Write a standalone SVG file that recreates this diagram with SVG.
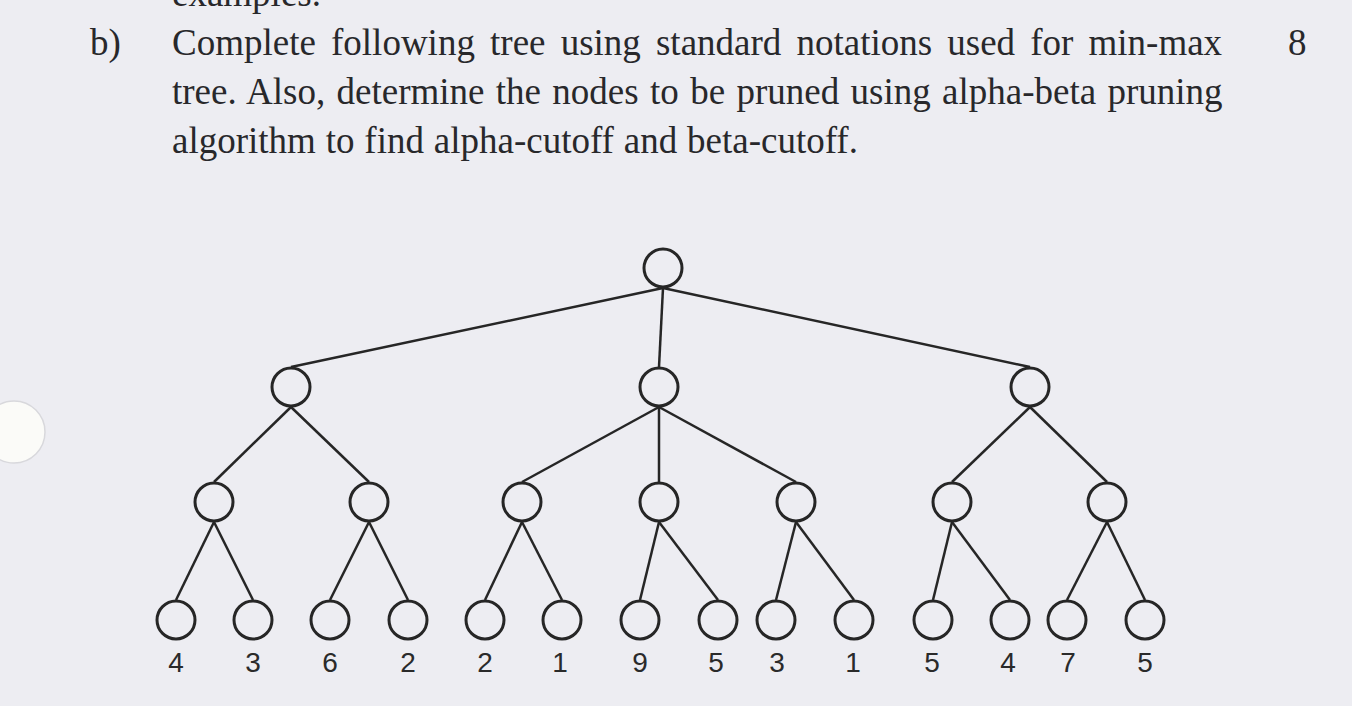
<svg xmlns="http://www.w3.org/2000/svg" width="1352" height="706" viewBox="0 0 1352 706">
<style>
.txt{font-family:"Liberation Serif","Times New Roman",serif;font-size:37px;fill:#28282b}
.num{font-family:"Liberation Sans",Arial,sans-serif;font-size:28px;fill:#2a2a2a;text-anchor:middle}
.node{fill:none;stroke:#262626;stroke-width:3}
.edge{stroke:#262626;stroke-width:2.5;fill:none}
</style>
<rect width="1352" height="706" fill="#ededf2"/>
<g id="punch-hole"><circle cx="14" cy="432" r="31" fill="#fbfbf8" stroke="#d8d8dc" stroke-width="1.5"/></g>
<g id="question-text">
<text class="txt" x="172" y="6">examples.</text>
<text class="txt" x="90" y="55">b)</text>
<text class="txt" x="172" y="55" word-spacing="5.9">Complete following tree using standard notations used for min-max</text>
<text class="txt" x="1288" y="55">8</text>
<text class="txt" x="172" y="104" word-spacing="2.1">tree. Also, determine the nodes to be pruned using alpha-beta pruning</text>
<text class="txt" x="172" y="153" word-spacing="0.6">algorithm to find alpha-cutoff and beta-cutoff.</text>
</g>
<g id="connectors">
<line class="edge" x1="663" y1="288" x2="291" y2="367"/>
<line class="edge" x1="663" y1="288" x2="659" y2="367"/>
<line class="edge" x1="663" y1="288" x2="1030" y2="367"/>
<line class="edge" x1="291" y1="407" x2="214" y2="482"/>
<line class="edge" x1="291" y1="407" x2="369" y2="482"/>
<line class="edge" x1="659" y1="407" x2="522" y2="482"/>
<line class="edge" x1="659" y1="407" x2="659" y2="482"/>
<line class="edge" x1="659" y1="407" x2="796" y2="482"/>
<line class="edge" x1="1030" y1="407" x2="952" y2="482"/>
<line class="edge" x1="1030" y1="407" x2="1107" y2="482"/>
<line class="edge" x1="214" y1="522" x2="176" y2="600"/>
<line class="edge" x1="214" y1="522" x2="253" y2="600"/>
<line class="edge" x1="369" y1="522" x2="330" y2="600"/>
<line class="edge" x1="369" y1="522" x2="408" y2="600"/>
<line class="edge" x1="522" y1="522" x2="485" y2="600"/>
<line class="edge" x1="522" y1="522" x2="562" y2="600"/>
<line class="edge" x1="659" y1="522" x2="640" y2="600"/>
<line class="edge" x1="659" y1="522" x2="718" y2="600"/>
<line class="edge" x1="796" y1="522" x2="776" y2="600"/>
<line class="edge" x1="796" y1="522" x2="854" y2="600"/>
<line class="edge" x1="952" y1="522" x2="933" y2="600"/>
<line class="edge" x1="952" y1="522" x2="1010" y2="600"/>
<line class="edge" x1="1107" y1="522" x2="1067" y2="600"/>
<line class="edge" x1="1107" y1="522" x2="1145" y2="600"/>
</g>
<g id="n-root"><circle class="node" cx="663" cy="268" r="19"/></g>
<g id="n-a"><circle class="node" cx="291" cy="387" r="19"/></g>
<g id="n-b"><circle class="node" cx="659" cy="387" r="19"/></g>
<g id="n-c"><circle class="node" cx="1030" cy="387" r="19"/></g>
<g id="n-a1"><circle class="node" cx="214" cy="502" r="19"/></g>
<g id="n-a2"><circle class="node" cx="369" cy="502" r="19"/></g>
<g id="n-b1"><circle class="node" cx="522" cy="502" r="19"/></g>
<g id="n-b2"><circle class="node" cx="659" cy="502" r="19"/></g>
<g id="n-b3"><circle class="node" cx="796" cy="502" r="19"/></g>
<g id="n-c1"><circle class="node" cx="952" cy="502" r="19"/></g>
<g id="n-c2"><circle class="node" cx="1107" cy="502" r="19"/></g>
<g id="leaf-1"><circle class="node" cx="176" cy="620" r="19"/><text class="num" x="176" y="672">4</text></g>
<g id="leaf-2"><circle class="node" cx="253" cy="620" r="19"/><text class="num" x="253" y="672">3</text></g>
<g id="leaf-3"><circle class="node" cx="330" cy="620" r="19"/><text class="num" x="330" y="672">6</text></g>
<g id="leaf-4"><circle class="node" cx="408" cy="620" r="19"/><text class="num" x="408" y="672">2</text></g>
<g id="leaf-5"><circle class="node" cx="485" cy="620" r="19"/><text class="num" x="485" y="672">2</text></g>
<g id="leaf-6"><circle class="node" cx="562" cy="620" r="19"/><text class="num" x="560" y="672">1</text></g>
<g id="leaf-7"><circle class="node" cx="640" cy="620" r="19"/><text class="num" x="640" y="672">9</text></g>
<g id="leaf-8"><circle class="node" cx="718" cy="620" r="19"/><text class="num" x="716" y="672">5</text></g>
<g id="leaf-9"><circle class="node" cx="776" cy="620" r="19"/><text class="num" x="777" y="672">3</text></g>
<g id="leaf-10"><circle class="node" cx="854" cy="620" r="19"/><text class="num" x="853" y="672">1</text></g>
<g id="leaf-11"><circle class="node" cx="933" cy="620" r="19"/><text class="num" x="932" y="672">5</text></g>
<g id="leaf-12"><circle class="node" cx="1010" cy="620" r="19"/><text class="num" x="1008" y="672">4</text></g>
<g id="leaf-13"><circle class="node" cx="1067" cy="620" r="19"/><text class="num" x="1068" y="672">7</text></g>
<g id="leaf-14"><circle class="node" cx="1145" cy="620" r="19"/><text class="num" x="1145" y="672">5</text></g>
</svg>
